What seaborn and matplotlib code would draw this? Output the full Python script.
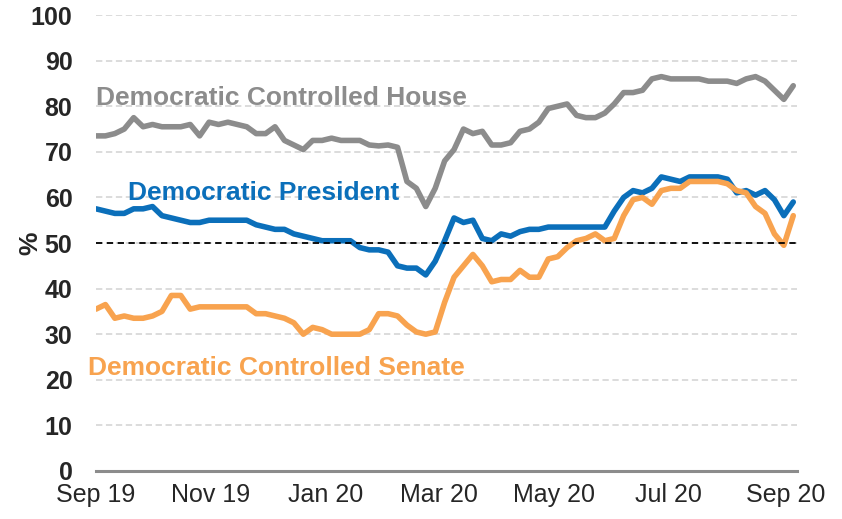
import matplotlib
matplotlib.use('Agg')
import matplotlib.pyplot as plt
import matplotlib.dates as mdates
import seaborn as sns
import pandas as pd

# readings every 5 days from 1 Sep 2019
dates = pd.date_range('2019-09-01', periods=75, freq='5D')

house = [73.5, 73.5, 74, 75, 77.5, 75.5, 76, 75.5, 75.5, 75.5,
         76, 73.5, 76.5, 76, 76.5, 76, 75.5, 74, 74, 75.5,
         72.5, 71.5, 70.5, 72.5, 72.5, 73, 72.5, 72.5, 72.5, 71.5,
         71.3, 71.5, 71, 63.5, 62, 58, 62, 68, 70.5, 75,
         74, 74.5, 71.5, 71.5, 72, 74.5, 75, 76.5, 79.5, 80,
         80.5, 78, 77.5, 77.5, 78.5, 80.5, 83, 83, 83.5, 86,
         86.5, 86, 86, 86, 86, 85.5, 85.5, 85.5, 85, 86,
         86.5, 85.5, 83.5, 81.5, 84.5]

president = [57.5, 57, 56.5, 56.5, 57.5, 57.5, 58, 56, 55.5, 55,
             54.5, 54.5, 55, 55, 55, 55, 55, 54, 53.5, 53,
             53, 52, 51.5, 51, 50.5, 50.5, 50.5, 50.5, 49, 48.5,
             48.5, 48, 45, 44.5, 44.5, 43, 46, 50.5, 55.5, 54.5,
             55, 51, 50.5, 52, 51.5, 52.5, 53, 53, 53.5, 53.5,
             53.5, 53.5, 53.5, 53.5, 53.5, 57, 60, 61.5, 61, 62,
             64.5, 64, 63.5, 64.5, 64.5, 64.5, 64.5, 64, 61, 61.5,
             60.5, 61.5, 59.5, 56, 59]

senate = [35.5, 36.5, 33.5, 34, 33.5, 33.5, 34, 35, 38.5, 38.5,
          35.5, 36, 36, 36, 36, 36, 36, 34.5, 34.5, 34,
          33.5, 32.5, 30, 31.5, 31, 30, 30, 30, 30, 31,
          34.5, 34.5, 34, 32, 30.5, 30, 30.5, 37, 42.5, 45,
          47.5, 45, 41.5, 42, 42, 44, 42.5, 42.5, 46.5, 47,
          49, 50.5, 51, 52, 50.5, 51, 56, 59.5, 60, 58.5,
          61.5, 62, 62, 63.5, 63.5, 63.5, 63.5, 63, 61.5, 61,
          58, 56.5, 52, 49.5, 56]

series_names = ['Democratic Controlled House', 'Democratic President', 'Democratic Controlled Senate']
colors = {'Democratic Controlled House': '#8c8c8c',
          'Democratic President': '#0b6fba',
          'Democratic Controlled Senate': '#f8a34f'}

df = pd.concat([
    pd.DataFrame({'Date': dates, 'Value': house, 'Series': series_names[0]}),
    pd.DataFrame({'Date': dates, 'Value': president, 'Series': series_names[1]}),
    pd.DataFrame({'Date': dates, 'Value': senate, 'Series': series_names[2]}),
])

sns.set_style('white')
plt.rcParams['font.family'] = ['Liberation Sans', 'DejaVu Sans']

fig = plt.figure(figsize=(8.42, 5.19), dpi=100)
ax = fig.add_axes([0.114, 0.0925, 0.8326, 0.8785])

sns.lineplot(data=df, x='Date', y='Value', hue='Series', palette=colors,
             hue_order=series_names, linewidth=4, legend=False, ax=ax)

ax.axhline(50, color='black', linestyle=(0, (3.5, 2.5)), linewidth=1.3, zorder=5)

ax.set_ylim(0, 100)
ax.set_yticks(range(0, 101, 10))
ax.set_xlim(pd.Timestamp('2019-09-01'), pd.Timestamp('2020-09-07'))
ax.xaxis.set_major_locator(mdates.MonthLocator(bymonth=[1, 3, 5, 7, 9, 11]))
ax.xaxis.set_major_formatter(mdates.DateFormatter('%b %y'))

ax.yaxis.grid(True, color='#d9d9d9', linestyle=(0, (3.5, 2)), linewidth=1.3)
ax.set_axisbelow(True)

for s in ['top', 'right', 'left']:
    ax.spines[s].set_visible(False)
ax.spines['bottom'].set_color('#8c8c8c')
ax.spines['bottom'].set_linewidth(2.2)

ax.tick_params(axis='y', length=0, pad=17, labelsize=18)
ax.tick_params(axis='x', length=5, width=2, color='#8c8c8c', pad=4, labelsize=18)
for lbl in ax.get_yticklabels():
    lbl.set_fontweight('bold')

ax.set_xlabel('')
ax.set_ylabel('%', fontsize=19, fontweight='bold')
ax.yaxis.set_label_coords(-0.076, 0.5)

ax.text(0.0, 0.818, 'Democratic Controlled House', transform=ax.transAxes,
        color='#8c8c8c', fontsize=19, fontweight='bold', va='center', ha='left')
ax.text(0.046, 0.61, 'Democratic President', transform=ax.transAxes,
        color='#0b6fba', fontsize=19, fontweight='bold', va='center', ha='left')
ax.text(-0.011, 0.226, 'Democratic Controlled Senate', transform=ax.transAxes,
        color='#f8a34f', fontsize=19, fontweight='bold', va='center', ha='left')

plt.savefig('out.png', dpi=100)
